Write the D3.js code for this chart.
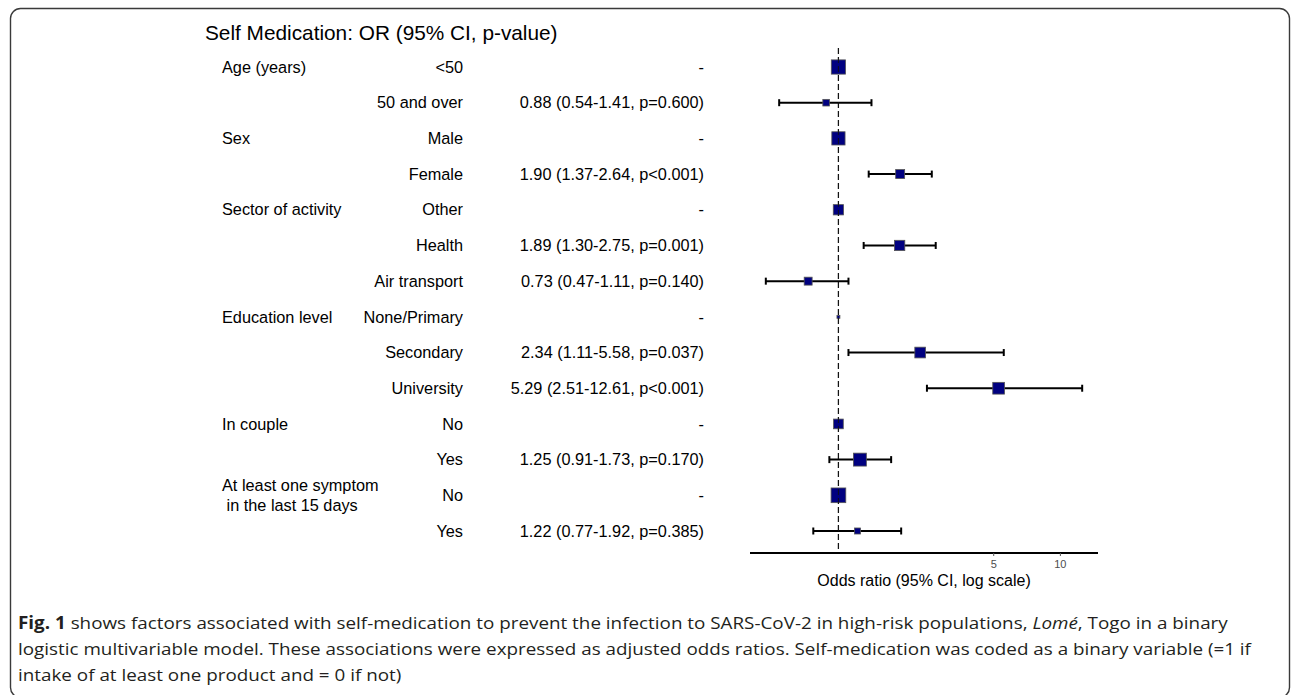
<!DOCTYPE html>
<html>
<head>
<meta charset="utf-8">
<script src="https://cdn.jsdelivr.net/npm/d3@7"></script>
<style>
  html, body { margin: 0; padding: 0; background: #fff; }
  svg { display: block; }
</style>
</head>
<body>
<svg id="chart" width="1292" height="695"></svg>
<script>
// ---------------- DATA ----------------
const chartTitle = "Self Medication: OR (95% CI, p-value)";
const rowGroup = ["Age (years)", "", "Sex", "", "Sector of activity", "", "", "Education level", "", "", "In couple", "", "At least one symptom\n in the last 15 days", ""];
const rowLevel = ["<50", "50 and over", "Male", "Female", "Other", "Health", "Air transport", "None/Primary", "Secondary", "University", "No", "Yes", "No", "Yes"];
const orValue = [1, 0.88, 1, 1.90, 1, 1.89, 0.73, 1, 2.34, 5.29, 1, 1.25, 1, 1.22];
const ciLow   = [null, 0.54, null, 1.37, null, 1.30, 0.47, null, 1.11, 2.51, null, 0.91, null, 0.77];
const ciHigh  = [null, 1.41, null, 2.64, null, 2.75, 1.11, null, 5.58, 12.61, null, 1.73, null, 1.92];
const orLabel = ["-", "0.88 (0.54-1.41, p=0.600)", "-", "1.90 (1.37-2.64, p<0.001)", "-", "1.89 (1.30-2.75, p=0.001)", "0.73 (0.47-1.11, p=0.140)", "-", "2.34 (1.11-5.58, p=0.037)", "5.29 (2.51-12.61, p<0.001)", "-", "1.25 (0.91-1.73, p=0.170)", "-", "1.22 (0.77-1.92, p=0.385)"];
// relative group size (drives box size)
const boxWeight = [0.97, 0.45, 0.90, 0.61, 0.70, 0.70, 0.54, 0.2, 0.73, 0.80, 0.66, 0.88, 1.0, 0.41];
const axisTicks = [5, 10];
const axisTitle = "Odds ratio (95% CI, log scale)";
const captionLines = [
  [{t: "Fig. 1", b: true}, {t: " shows factors associated with self-medication to prevent the infection to SARS-CoV-2 in high-risk populations, "}, {t: "Lomé", i: true}, {t: ", Togo in a binary"}],
  [{t: "logistic multivariable model. These associations were expressed as adjusted odds ratios. Self-medication was coded as a binary variable (=1 if"}],
  [{t: "intake of at least one product and = 0 if not)"}]
];

// ---------------- DRAW ----------------
const svg = d3.select("#chart");
const FONT = "'Liberation Sans', Arial, Helvetica, sans-serif";

// frame
svg.append("rect")
  .attr("x", 10.5).attr("y", 8.5)
  .attr("width", 1279).attr("height", 689)
  .attr("rx", 10).attr("ry", 10)
  .attr("fill", "none").attr("stroke", "#3a3a3a").attr("stroke-width", 1.4);

// scales
const idx = d3.range(rowLevel.length);
const y = d3.scalePoint().domain(idx).range([67, 531]);

const allVals = ciLow.concat(ciHigh).filter(v => v != null).map(v => Math.log10(v));
const lmin = d3.min(allVals), lmax = d3.max(allVals);
const pad = (lmax - lmin) * 0.05;
const x = d3.scaleLog()
  .domain([Math.pow(10, lmin - pad), Math.pow(10, lmax + pad)])
  .range([750, 1098]);

// title
svg.append("text")
  .attr("x", 205).attr("y", 40)
  .attr("font-family", FONT).attr("font-size", 20.8)
  .attr("fill", "#000")
  .text(chartTitle);

// group labels
const gl = svg.append("g").attr("font-family", FONT).attr("font-size", 16.3).attr("fill", "#000");
idx.forEach(i => {
  if (!rowGroup[i]) return;
  const lines = rowGroup[i].split("\n");
  const t = gl.append("text").attr("x", 222).attr("xml:space", "preserve");
  if (lines.length === 1) {
    t.attr("y", y(i)).attr("dy", "0.35em").text(lines[0]);
  } else {
    lines.forEach((ln, k) => {
      t.append("tspan").attr("x", 222)
        .attr("y", y(i) + (k - (lines.length - 1) / 2) * 20)
        .attr("dy", "0.35em")
        .text(ln);
    });
  }
});

// level labels
gl.selectAll("text.level").data(idx).join("text")
  .attr("class", "level")
  .attr("x", 463).attr("y", d => y(d)).attr("dy", "0.35em")
  .attr("text-anchor", "end")
  .text(d => rowLevel[d]);

// OR labels
gl.selectAll("text.orl").data(idx).join("text")
  .attr("class", "orl")
  .attr("x", 704).attr("y", d => y(d)).attr("dy", "0.35em")
  .attr("text-anchor", "end")
  .text(d => orLabel[d]);

// reference dashed line
const axisY = 553;
svg.append("line")
  .attr("x1", x(1)).attr("x2", x(1))
  .attr("y1", 48).attr("y2", axisY)
  .attr("stroke", "#222").attr("stroke-width", 1.2)
  .attr("stroke-dasharray", "6,3");

// whiskers
const ci = idx.filter(i => ciLow[i] != null);
const wg = svg.append("g").attr("stroke", "#000").attr("stroke-width", 2);
wg.selectAll("line.ci").data(ci).join("line")
  .attr("x1", d => x(ciLow[d])).attr("x2", d => x(ciHigh[d]))
  .attr("y1", d => y(d)).attr("y2", d => y(d));
wg.selectAll("line.capl").data(ci).join("line")
  .attr("x1", d => x(ciLow[d])).attr("x2", d => x(ciLow[d]))
  .attr("y1", d => y(d) - 3.5).attr("y2", d => y(d) + 3.5);
wg.selectAll("line.caph").data(ci).join("line")
  .attr("x1", d => x(ciHigh[d])).attr("x2", d => x(ciHigh[d]))
  .attr("y1", d => y(d) - 3.5).attr("y2", d => y(d) + 3.5);

// boxes
const size = d3.scaleLinear().domain([0, 1]).range([0, 14.7]);
svg.append("g").selectAll("rect").data(idx).join("rect")
  .attr("x", d => x(orValue[d]) - size(boxWeight[d]) / 2)
  .attr("y", d => y(d) - size(boxWeight[d]) / 2)
  .attr("width", d => size(boxWeight[d]))
  .attr("height", d => size(boxWeight[d]))
  .attr("fill", "#000080")
  .attr("stroke", "#555")
  .attr("stroke-width", 0.8);

// dashed line drawn again over the boxes, as in the reference
svg.append("line")
  .attr("x1", x(1)).attr("x2", x(1))
  .attr("y1", 48).attr("y2", axisY)
  .attr("stroke", "#111").attr("stroke-width", 1)
  .attr("stroke-dasharray", "6,3")
  .attr("opacity", 0.85);

// x axis
const xAxis = d3.axisBottom(x).tickValues(axisTicks).tickFormat(d3.format("d")).tickSize(3).tickPadding(4);
const ag = svg.append("g").attr("transform", `translate(0,${axisY})`).call(xAxis);
ag.select(".domain").attr("stroke", "#000").attr("stroke-width", 1.8).attr("d", `M${x.range()[0]},0H${x.range()[1]}`);
ag.selectAll(".tick line").attr("stroke", "#555").attr("stroke-width", 1);
ag.selectAll(".tick text").attr("fill", "#4d4d4d").attr("font-family", FONT).attr("font-size", 11);

svg.append("text")
  .attr("x", (x.range()[0] + x.range()[1]) / 2).attr("y", 586)
  .attr("text-anchor", "middle")
  .attr("font-family", FONT).attr("font-size", 16)
  .text(axisTitle);

// caption
const CAPFONT = "'Open Sans', 'Noto Sans', sans-serif";
const cap = svg.append("g").attr("font-family", CAPFONT).attr("font-size", 17).attr("fill", "#231f20");
const capTexts = captionLines.map((parts, k) => {
  const t = cap.append("text").attr("x", 0).attr("y", 629 + k * 26).attr("xml:space", "preserve");
  parts.forEach(p => {
    const s = t.append("tspan").text(p.t);
    if (p.b) s.attr("font-weight", "bold");
    if (p.i) s.attr("font-style", "italic");
  });
  return t;
});
const w1 = capTexts[0].node().getComputedTextLength();
const sx = 1210 / w1;
cap.attr("transform", `translate(18,0) scale(${sx},1)`);
</script>
</body>
</html>
